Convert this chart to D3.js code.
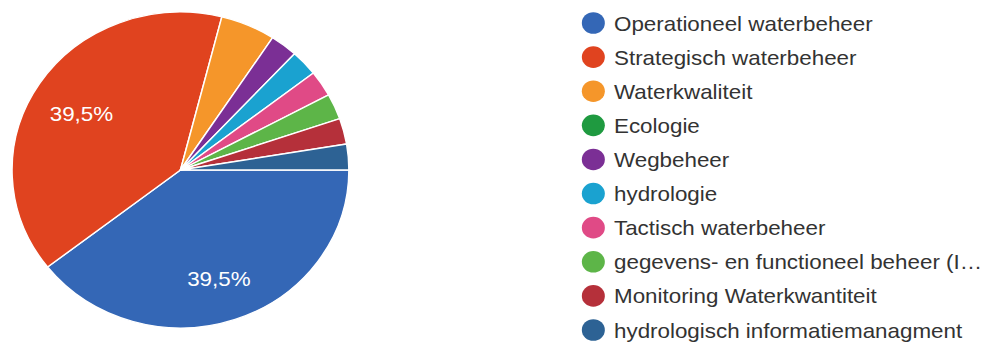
<!DOCTYPE html>
<html>
<head>
<meta charset="utf-8">
<script src="https://cdn.jsdelivr.net/npm/d3@7"></script>
<style>
  html, body { margin: 0; padding: 0; background: #fff; }
  svg { display: block; font-family: "Liberation Sans", Arial, sans-serif; }
</style>
</head>
<body>
<svg id="chart" width="989" height="345"></svg>
<script>
// Responses per field of work
const categories = [
  "Operationeel waterbeheer",
  "Strategisch waterbeheer",
  "Waterkwaliteit",
  "Ecologie",
  "Wegbeheer",
  "hydrologie",
  "Tactisch waterbeheer",
  "gegevens- en functioneel beheer (I…",
  "Monitoring Waterkwantiteit",
  "hydrologisch informatiemanagment"
];
const counts = [15, 15, 2, 0, 1, 1, 1, 1, 1, 1];
const colors = [
  "#3467b6", "#e0431f", "#f5962a", "#1f9a40", "#7b2f95",
  "#1aa2d0", "#e04a86", "#5db548", "#b5303a", "#2d6294"
];

const W = 989, H = 345;
const stretchX = 1.066;          // the whole drawing is widened slightly
const cx = 169.3, cy = 170, R = 158;

const svg = d3.select("#chart");
const root = svg.append("g").attr("transform", `scale(${stretchX},1)`);

const data = categories.map((c, i) => ({ name: c, value: counts[i], color: colors[i] }));
const total = d3.sum(counts);

// Pie begins at 3 o'clock and runs clockwise
const pie = d3.pie()
  .value(d => d.value)
  .sort(null)
  .startAngle(Math.PI / 2)
  .endAngle(Math.PI / 2 + 2 * Math.PI);

const arc = d3.arc().innerRadius(0).outerRadius(R);
const labelArc = d3.arc().innerRadius(111).outerRadius(111);

const pieG = root.append("g").attr("transform", `translate(${cx},${cy})`);
const arcs = pie(data).filter(a => a.data.value > 0);

pieG.selectAll("path.slice")
  .data(arcs)
  .join("path")
  .attr("class", "slice")
  .attr("d", arc)
  .attr("fill", d => d.data.color)
  .attr("stroke", "#fff")
  .attr("stroke-width", 1.4)
  .attr("stroke-linejoin", "round");

const fmt = v => (v * 100).toFixed(1).replace(".", ",") + "%";

pieG.selectAll("text.pct")
  .data(arcs.filter(a => (a.endAngle - a.startAngle) > 0.5))
  .join("text")
  .attr("class", "pct")
  .attr("x", d => labelArc.centroid(d)[0])
  .attr("y", d => labelArc.centroid(d)[1] + 11.5)
  .attr("text-anchor", "middle")
  .attr("fill", "#fff")
  .attr("font-size", 21)
  .text(d => fmt(d.data.value / total));

// Legend
const legendY = d3.scalePoint()
  .domain(categories)
  .range([23, 330]);

const legend = root.append("g");
const rows = legend.selectAll("g.row")
  .data(data)
  .join("g")
  .attr("class", "row")
  .attr("transform", d => `translate(0,${legendY(d.name)})`);

rows.append("circle")
  .attr("cx", 556.6)
  .attr("cy", 0)
  .attr("r", 10.8)
  .attr("fill", d => d.color);

rows.append("text")
  .attr("x", 576)
  .attr("y", 7.5)
  .attr("font-size", 21)
  .attr("fill", "#333")
  .text(d => d.name);
</script>
</body>
</html>
